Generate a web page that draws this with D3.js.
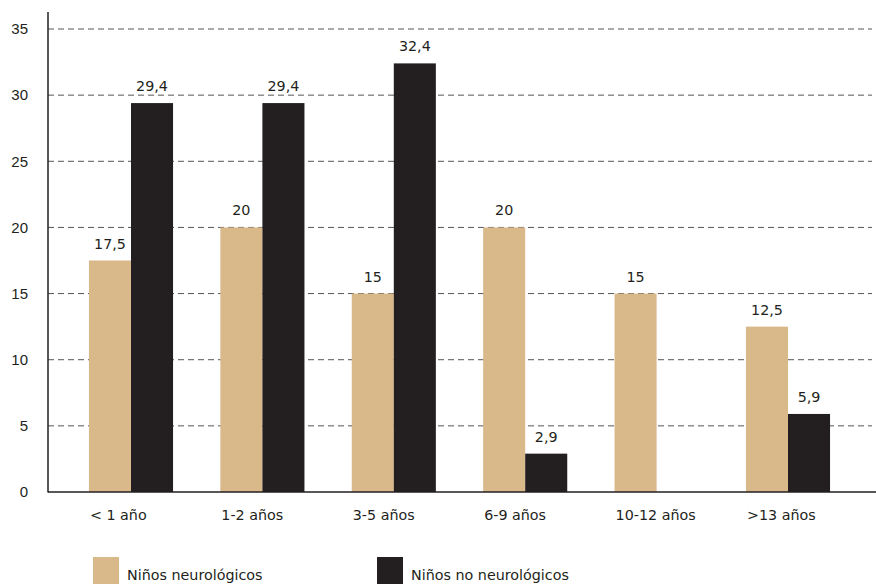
<!DOCTYPE html>
<html>
<head>
<meta charset="utf-8">
<script src="https://cdn.jsdelivr.net/npm/d3@7"></script>
<style>
  html, body { margin: 0; padding: 0; background: #fff; }
  svg { display: block; }
</style>
</head>
<body>
<svg id="chart" width="876" height="584"></svg>
<script>
// Age groups and percentages per group of children
const categories = ["< 1 año", "1-2 años", "3-5 años", "6-9 años", "10-12 años", ">13 años"];
const neurologicos = [17.5, 20, 15, 20, 15, 12.5];
const noNeurologicos = [29.4, 29.4, 32.4, 2.9, null, 5.9];
const seriesNames = ["Niños neurológicos", "Niños no neurológicos"];
const yTicks = [0, 5, 10, 15, 20, 25, 30, 35];

const colors = ["#d9b88a", "#231f20"];
const textFont = "'DejaVu Sans', sans-serif";
const svg = d3.select("#chart");

const plot = { left: 48, right: 876, top: 12, bottom: 492 };

const y = d3.scaleLinear().domain([0, 35]).range([plot.bottom, 29]);

const x = d3.scaleBand()
  .domain(categories)
  .range([65.3, 853.7])
  .paddingInner(0.36)
  .paddingOuter(0.18);

const xSub = d3.scaleBand()
  .domain([0, 1])
  .range([0, x.bandwidth()]);

const fmt = v => String(v).replace(".", ",");

// dashed grid lines
svg.append("g")
  .selectAll("line")
  .data(yTicks.filter(t => t > 0))
  .join("line")
  .attr("x1", plot.left)
  .attr("x2", 872)
  .attr("y1", d => y(d))
  .attr("y2", d => y(d))
  .attr("stroke", "#555")
  .attr("stroke-width", 1)
  .attr("stroke-dasharray", "6,4");

// y tick labels
svg.append("g")
  .selectAll("text")
  .data(yTicks)
  .join("text")
  .attr("x", 28)
  .attr("y", d => y(d))
  .attr("dy", "0.35em")
  .attr("text-anchor", "end")
  .attr("font-family", "'Liberation Sans', Arial, sans-serif")
  .attr("font-size", 15)
  .attr("fill", "#231f20")
  .text(d => d);

// bars
const rows = categories.map((c, i) => ({ c, vals: [neurologicos[i], noNeurologicos[i]] }));
const groups = svg.append("g")
  .selectAll("g")
  .data(rows)
  .join("g")
  .attr("transform", d => `translate(${x(d.c)},0)`);

groups.selectAll("rect")
  .data(d => d.vals.map((v, k) => ({ v, k })).filter(e => e.v != null))
  .join("rect")
  .attr("x", d => xSub(d.k))
  .attr("width", xSub.bandwidth())
  .attr("y", d => y(d.v))
  .attr("height", d => plot.bottom - y(d.v))
  .attr("fill", d => colors[d.k]);

// value labels
groups.selectAll("text.val")
  .data(d => d.vals.map((v, k) => ({ v, k })).filter(e => e.v != null))
  .join("text")
  .attr("class", "val")
  .attr("x", d => xSub(d.k) + xSub.bandwidth() / 2)
  .attr("y", d => y(d.v) - 12)
  .attr("text-anchor", "middle")
  .attr("font-family", textFont)
  .attr("font-size", 14.3)
  .attr("fill", "#231f20")
  .text(d => fmt(d.v));

// category labels
svg.append("g")
  .selectAll("text")
  .data(categories)
  .join("text")
  .attr("x", d => x(d) + 1)
  .attr("y", 520)
  .attr("font-family", textFont)
  .attr("font-size", 14.3)
  .attr("fill", "#231f20")
  .text(d => d);

// axes lines
svg.append("line")
  .attr("x1", plot.left).attr("x2", plot.left)
  .attr("y1", plot.top).attr("y2", plot.bottom + 0.5)
  .attr("stroke", "#231f20").attr("stroke-width", 1.5);
svg.append("line")
  .attr("x1", plot.left).attr("x2", plot.right)
  .attr("y1", plot.bottom).attr("y2", plot.bottom)
  .attr("stroke", "#231f20").attr("stroke-width", 1.5);

// legend
const legendX = [93, 377];
const legend = svg.append("g")
  .selectAll("g")
  .data(seriesNames)
  .join("g")
  .attr("transform", (d, i) => `translate(${legendX[i]},557)`);
legend.append("rect")
  .attr("width", 26).attr("height", 27)
  .attr("fill", (d, i) => colors[i]);
legend.append("text")
  .attr("x", 34).attr("y", 23)
  .attr("font-family", textFont)
  .attr("font-size", 14.3)
  .attr("fill", "#231f20")
  .text(d => d);
</script>
</body>
</html>
